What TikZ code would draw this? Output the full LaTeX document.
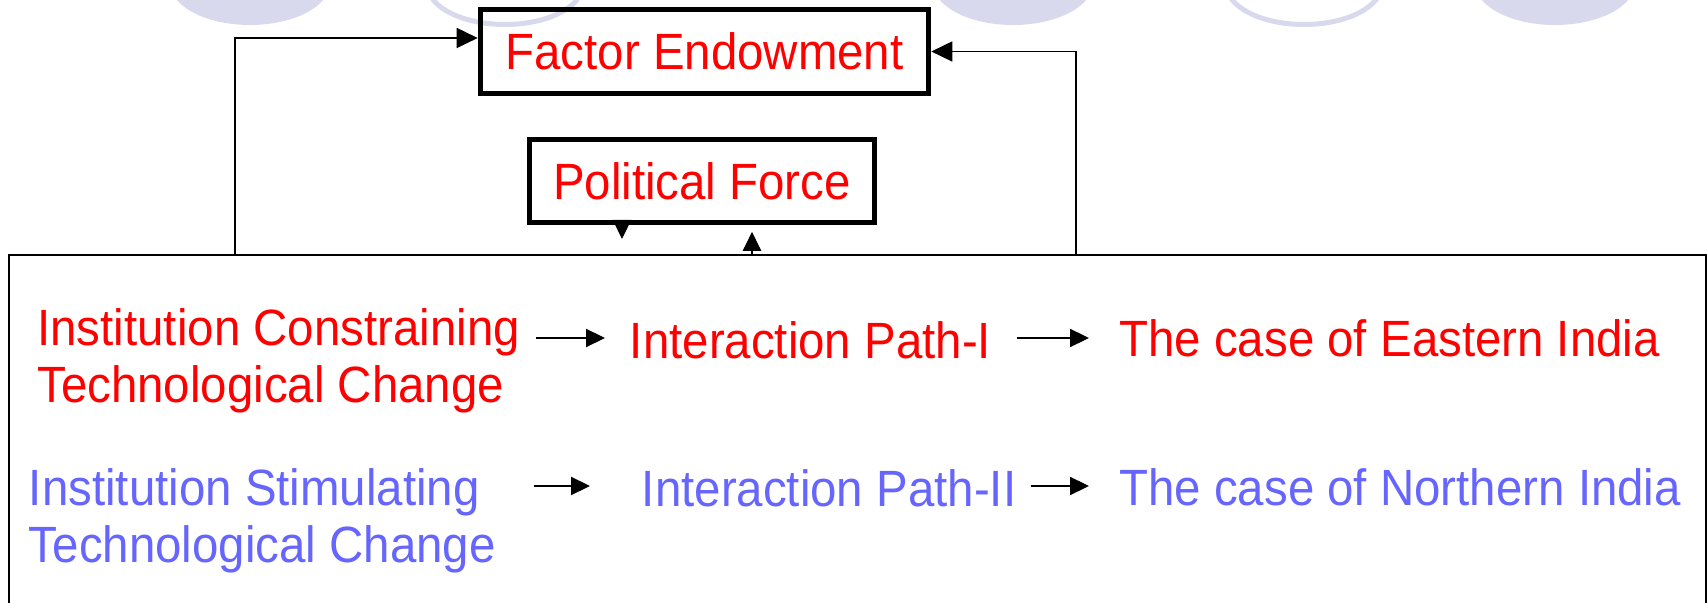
\documentclass[tikz,border=0pt]{standalone}
\usepackage{fontspec}
\setmainfont{Liberation Sans}[FakeStretch=0.93]
\usepackage{xcolor}
\usepackage{tikz}
\usetikzlibrary{positioning}
\usetikzlibrary{arrows.meta}
\definecolor{pathred}{RGB}{255,0,0}
\definecolor{pathblue}{RGB}{102,102,255}
\definecolor{lavender}{RGB}{217,217,237}
\tikzset {
  % big slide text
  slidefont/.style={font=\fontsize{25.5}{28.5}\selectfont},
  % the two boxed forces on top
  force/.style = {draw, line width=2.8pt, text=pathred, slidefont},
  % plain labels in the panel (base = last line)
  label/.style = {inner sep=0pt, anchor=base west, align=left, slidefont},
  constrain/.style={label, text=pathred},
  stimulate/.style={label, text=pathblue},
  % connectors
  link/.style={line width=0.8pt, -{Triangle[length=10.5pt, width=10pt]}},
  flow/.style={line width=1.1pt, -{Triangle[length=9.5pt, width=9pt]}},
  blob/.style={fill=lavender},
  ring/.style={draw=lavender, line width=2.5pt},
}

\begin{document}
\begin{tikzpicture}[x=0.5pt, y=-0.5pt]
        \useasboundingbox (0,0) rectangle (1708,603);

        % decoration along the top edge
        \fill[blob] (250,-17) ellipse [x radius=40pt, y radius=21pt];
        \draw[ring] (505,-15) ellipse [x radius=38.75pt, y radius=19.75pt];
        \fill[blob] (1013,-17) ellipse [x radius=40pt, y radius=21pt];
        \draw[ring] (1304,-15) ellipse [x radius=38.75pt, y radius=19.75pt];
        \fill[blob] (1555,-17) ellipse [x radius=40pt, y radius=21pt];

        \node[force, minimum width=224pt, minimum height=42pt] (fe) at (704.5,51.5) {Factor Endowment};
        \node[force, minimum width=172.5pt, minimum height=41.5pt] (pf) at (702,181) {Political Force};

        \node[draw, line width=1pt, minimum width=848.5pt, minimum height=202.5pt] (panel) at (857.5,457.5) {};

        \node[constrain] (ic) at (37,403) {Institution Constraining\\Technological Change};
        \node[constrain] (p1) at (629.5,359) {Interaction Path-I};
        \node[constrain] (east) at (1119,357) {The case of Eastern India};

        \node[stimulate] (is) at (28.5,563) {Institution Stimulating\\Technological Change};
        \node[stimulate] (p2) at (641.5,507) {Interaction Path-II};
        \node[stimulate] (north) at (1119,506) {The case of Northern India};

        \draw [link] (235,0 |- panel.north) |- ([yshift=6.75pt]fe.west);
        \draw [link] (1076,0 |- panel.north) |- (fe.east);
        \draw [flow] (622,0 |- pf.south) -- (622,0 |- panel.north) [shorten >=7.5pt];
        \draw [flow] (752,0 |- panel.north) -- (752,0 |- pf.south) [shorten >=3.25pt];

        \draw [flow, shorten <=8pt, shorten >=12.25pt] (ic.east |- 0,338) -- (p1.west |- 0,338);
        \draw [flow, shorten <=12.5pt, shorten >=15pt] (p1.east |- 0,338) -- (east.west |- 0,338);
        \draw [flow, shorten <=19pt, shorten >=25.75pt] (is.east |- 0,486) -- (p2.west |- 0,486);
        \draw [flow, shorten <=7pt, shorten >=15pt] (p2.east |- 0,486) -- (north.west |- 0,486);
      \end{tikzpicture}
\end{document}
